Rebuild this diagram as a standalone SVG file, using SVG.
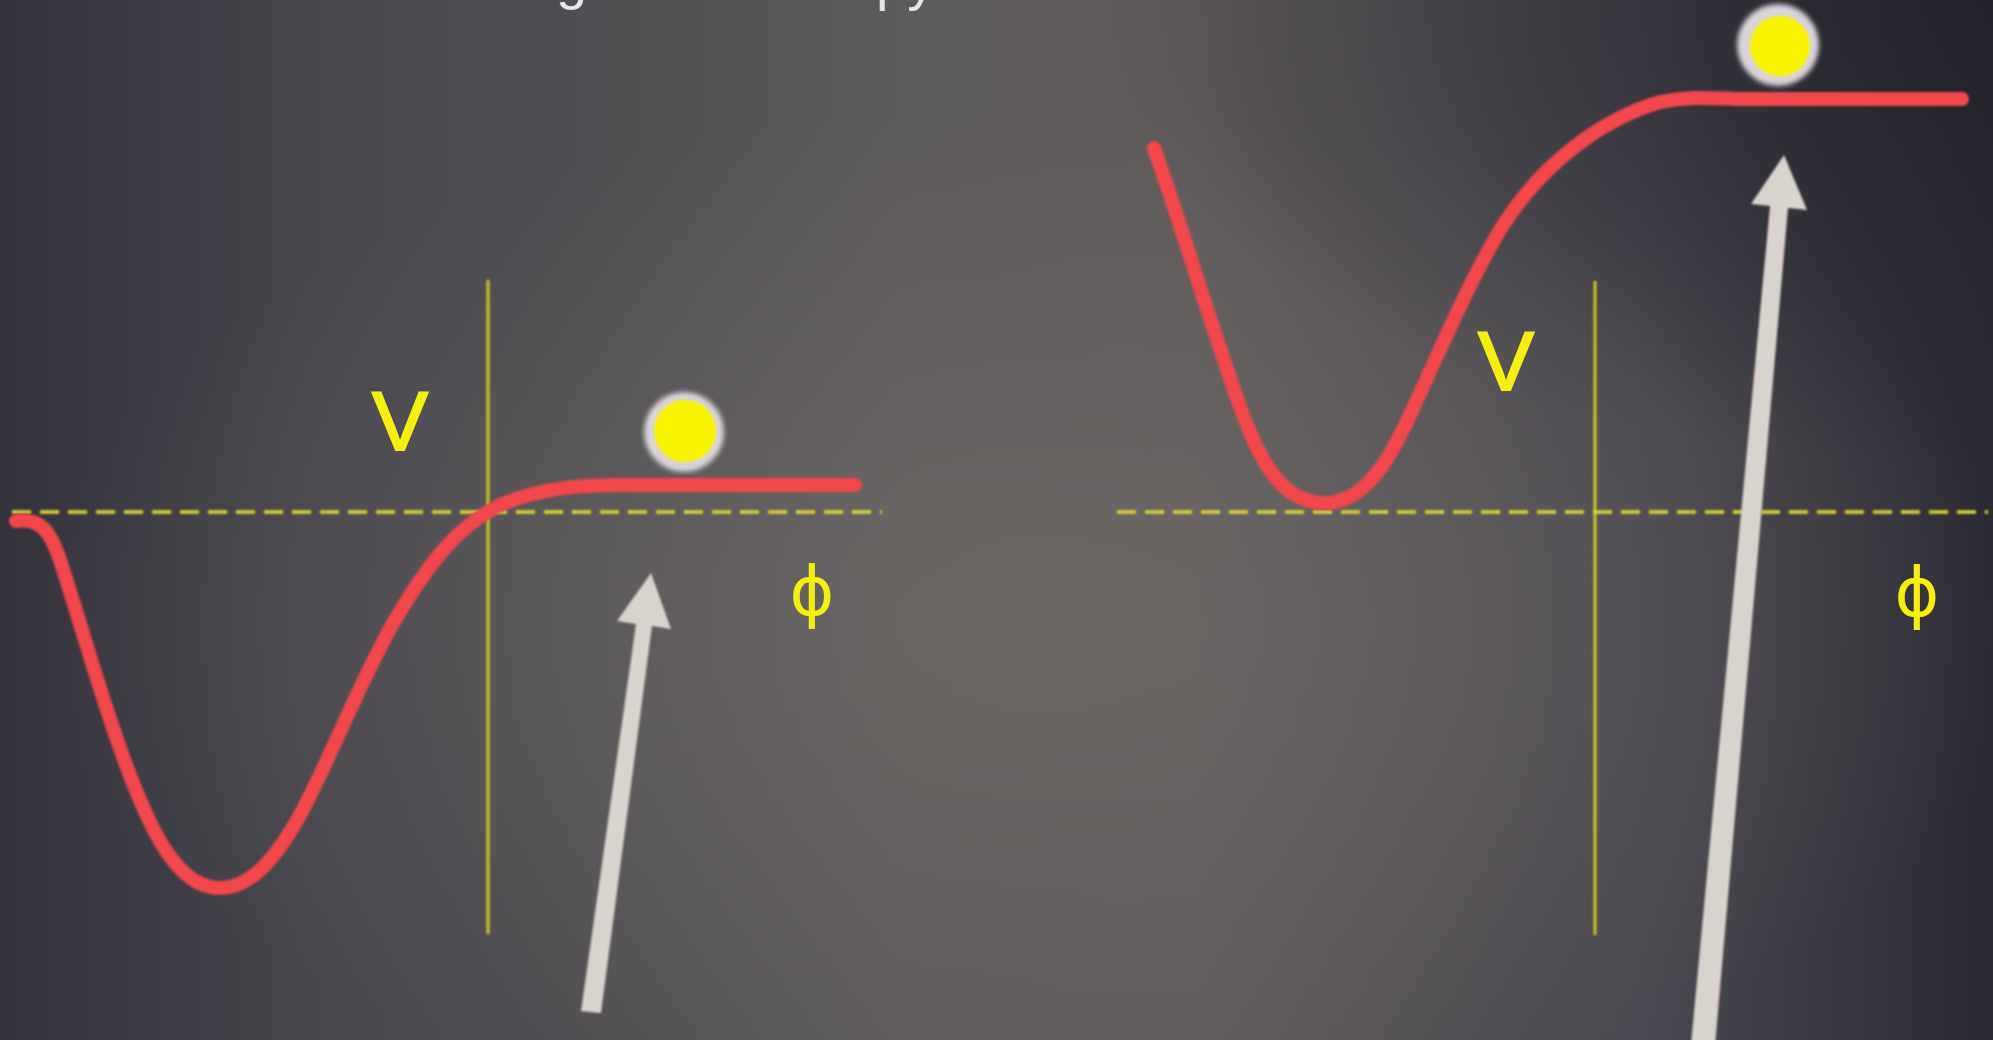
<svg xmlns="http://www.w3.org/2000/svg" width="1993" height="1040" viewBox="0 0 1993 1040">
  <defs>
    <linearGradient id="bgH" x1="0" y1="0" x2="1" y2="0">
      <stop offset="0" stop-color="#34333c"/>
      <stop offset="0.15" stop-color="#46454c"/>
      <stop offset="0.45" stop-color="#5d5a5a"/>
      <stop offset="0.6" stop-color="#5f5b5b"/>
      <stop offset="0.82" stop-color="#4a4850"/>
      <stop offset="1" stop-color="#2c2a33"/>
    </linearGradient>
    <radialGradient id="glow" cx="0.52" cy="0.6" r="0.5">
      <stop offset="0" stop-color="#7a7470" stop-opacity="0.5"/>
      <stop offset="1" stop-color="#7a7470" stop-opacity="0"/>
    </radialGradient>
    <radialGradient id="darkTR" cx="1" cy="0" r="0.45">
      <stop offset="0" stop-color="#1e1c24" stop-opacity="0.7"/>
      <stop offset="1" stop-color="#1e1c24" stop-opacity="0"/>
    </radialGradient>
    <filter id="soft" x="-20%" y="-20%" width="140%" height="140%">
      <feGaussianBlur stdDeviation="1.2"/>
    </filter>
    <filter id="halo" x="-50%" y="-50%" width="200%" height="200%">
      <feGaussianBlur stdDeviation="2.5"/>
    </filter>
    <filter id="glowY" x="-50%" y="-50%" width="200%" height="200%">
      <feGaussianBlur stdDeviation="0.9"/>
    </filter>
  </defs>
  <style>
    .curve { fill: none; stroke: #f2474b; stroke-width: 14; stroke-linecap: round; stroke-linejoin: round; }
    .axis { stroke: #d4ca22; stroke-width: 3; fill: none; }
    .dash { stroke: #e0d62c; stroke-width: 3.5; stroke-dasharray: 19 9; fill: none; }
    .lbl { font-family: "Liberation Sans", Arial, sans-serif; fill: #f6ee10; stroke: #f6ee10; stroke-width: 2; }
    .phi { font-family: "DejaVu Sans", "Liberation Sans", sans-serif; fill: #f6ee10; }
    .arrow { fill: #d9d3cd; }
    .ball { fill: #fbf400; }
    .halo { fill: #d8d4d8; }
    .top { font-family: "Liberation Sans", Arial, sans-serif; fill: #e6e4e8; font-size: 56px; }
  </style>

  <rect width="1993" height="1040" fill="url(#bgH)"/>
  <rect width="1993" height="1040" fill="url(#glow)"/>
  <rect width="1993" height="1040" fill="url(#darkTR)"/>

  <g id="title-fragment">
    <text class="top" x="556" y="-2">g</text>
    <text class="top" x="876" y="-1">py</text>
  </g>

  <g id="left-panel">
    <g id="left-axes" filter="url(#glowY)">
      <line class="axis" x1="488" y1="280" x2="488" y2="934"/>
      <line class="dash" x1="12" y1="512" x2="882" y2="512"/>
    </g>
    <text id="left-V" class="lbl" x="400" y="450" font-size="84" text-anchor="middle">V</text>
    <text id="left-phi" class="phi" x="812" y="615" font-size="68" text-anchor="middle">ϕ</text>
    <path id="left-curve" class="curve" filter="url(#soft)" d="M 16 521 C 40 518, 50 530, 60 560 C 80 620, 110 730, 140 800 C 165 860, 190 888, 220 888 C 250 888, 275 860, 300 815 C 330 760, 360 680, 395 620 C 430 560, 460 525, 500 505 C 540 488, 580 485, 620 485 L 855 485"/>
    <g id="left-ball">
      <circle class="halo" cx="684" cy="432" r="40" filter="url(#halo)"/>
      <circle class="ball" cx="685" cy="431" r="31" filter="url(#glowY)"/>
    </g>
  </g>

  <g id="right-panel">
    <g id="right-axes" filter="url(#glowY)">
      <line class="axis" x1="1595" y1="281" x2="1595" y2="935"/>
      <line class="dash" x1="1117" y1="512" x2="1988" y2="512"/>
    </g>
    <text id="right-V" class="lbl" x="1506" y="390" font-size="84" text-anchor="middle">V</text>
    <text id="right-phi" class="phi" x="1917" y="616" font-size="68" text-anchor="middle">ϕ</text>
    <path id="right-curve" class="curve" filter="url(#soft)" d="M 1154 148 C 1180 220, 1215 340, 1245 420 C 1270 485, 1295 503, 1325 503 C 1360 503, 1385 470, 1410 415 C 1440 350, 1470 280, 1500 230 C 1540 165, 1600 120, 1660 102 C 1690 96, 1710 98, 1740 99 L 1962 99"/>
    <g id="right-ball">
      <circle class="halo" cx="1778" cy="45" r="41" filter="url(#halo)"/>
      <circle class="ball" cx="1780" cy="46" r="30" filter="url(#glowY)"/>
    </g>
  </g>

  <g id="connectors" filter="url(#soft)">
    <polygon id="left-arrow" class="arrow" points="651,573 671,629 652,626 601,1013 581,1011 636,624 617,621"/>
    <polygon id="right-arrow" class="arrow" points="1784,155 1807,210 1788,208 1715,1046 1691,1044 1770,206 1751,204"/>
  </g>
</svg>
